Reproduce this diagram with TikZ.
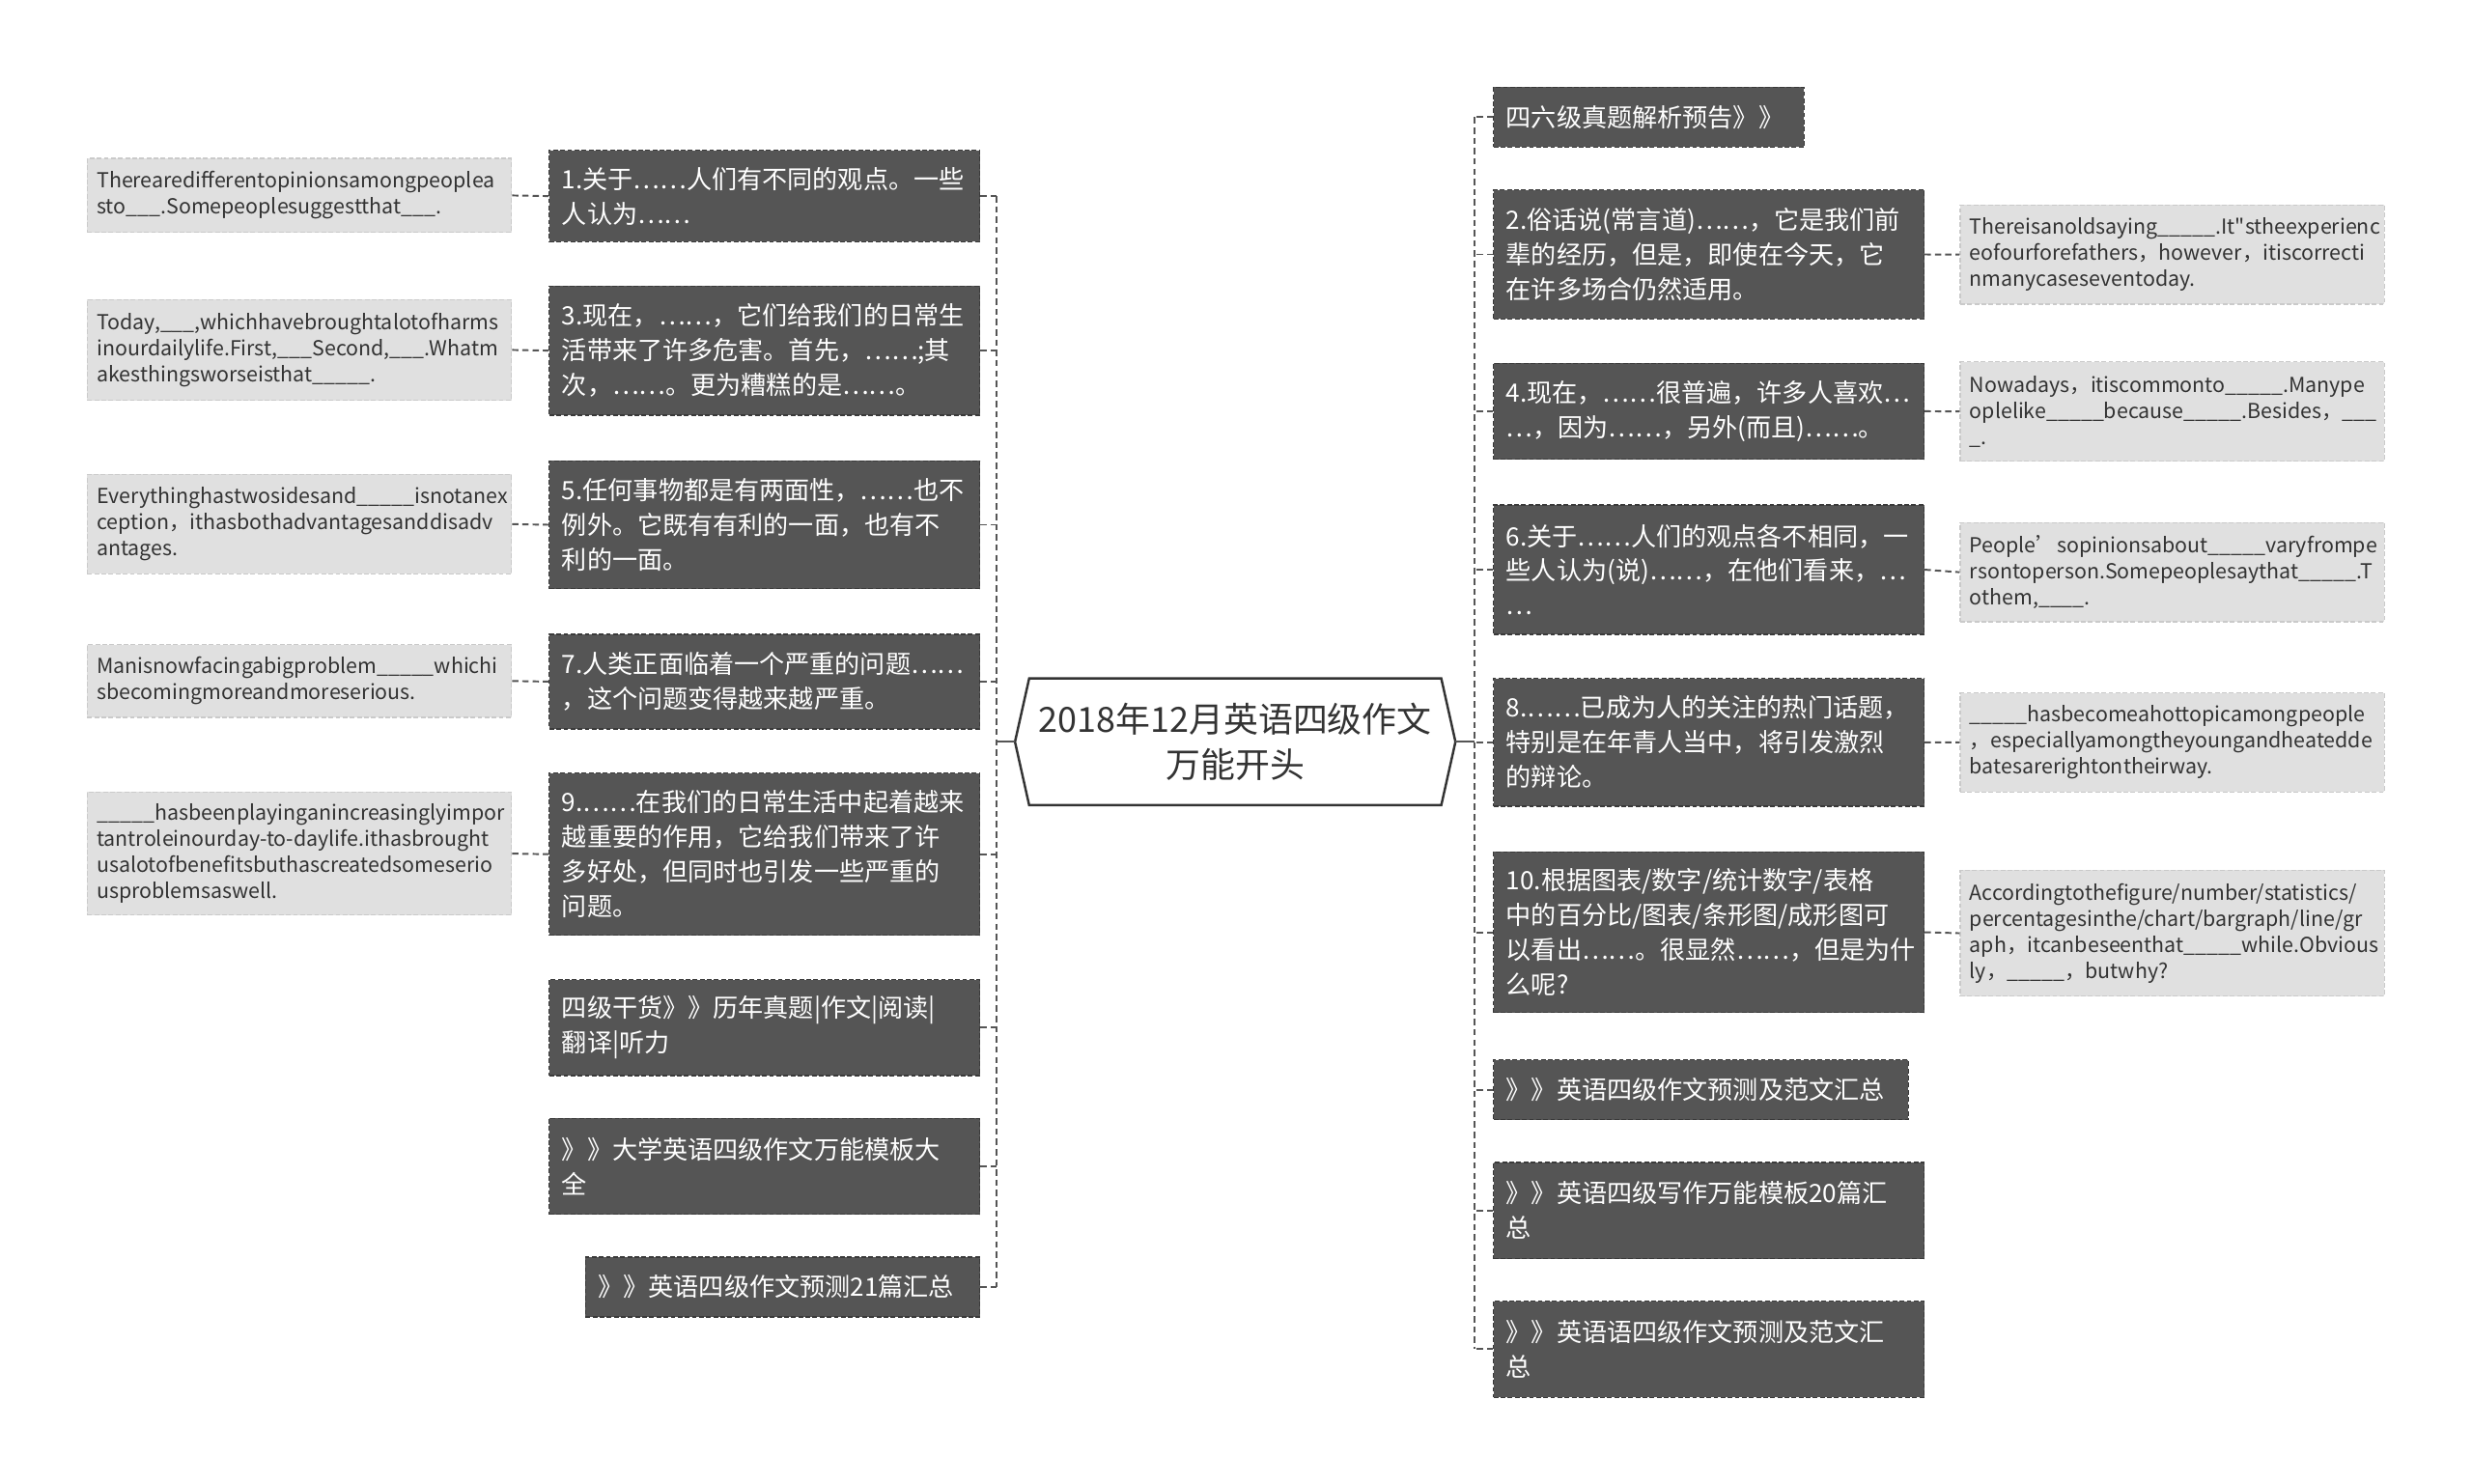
\documentclass[tikz,border=0pt]{standalone}
\usepackage{fontspec}
\setmainfont{Noto Sans CJK SC}
\setmonofont{Noto Sans CJK SC}
\hyphenpenalty=10000 \exhyphenpenalty=10000
\definecolor{dk}{HTML}{555555}
\definecolor{dkb}{HTML}{3A3A3A}
\definecolor{lt}{HTML}{E0E0E0}
\definecolor{ltb}{HTML}{CACACA}
\definecolor{ln}{HTML}{555555}
\definecolor{tx}{HTML}{333333}
\newcommand{\sq}{{\ttfamily"}}
\begin{document}
\begin{tikzpicture}[x=1pt,y=-1pt,
 darkbox/.style={fill=dk, draw=dkb, dash pattern=on 3pt off 1.5pt, line width=0.8pt, text=white,
   font=\fontsize{16}{22}\selectfont, align=left, inner xsep=8pt, inner ysep=0pt,
   anchor=north west, minimum width=273pt, text width=257pt},
 lightbox/.style={fill=lt, draw=ltb, dash pattern=on 3pt off 1.5pt, line width=0.8pt, text=tx,
   font=\fontsize{13.1}{16.5}\selectfont, align=left, inner xsep=6pt, inner ysep=0pt,
   anchor=west, minimum width=269pt, text width=257pt},
 link/.style={draw=ln, line width=1.2pt, dash pattern=on 4pt off 2.5pt},
 stem/.style={draw=ln, line width=1.4pt},
]
\useasboundingbox (0,0) rectangle (1568,941);

% central node
\node[minimum width=279pt, minimum height=80pt, inner sep=0pt] (c) at (783.5,470.6) {};
\draw[tx, line width=1.5pt, fill=white] (c.west) -- ([xshift=9pt]c.north west) -- ([xshift=-9pt]c.north east)
  -- (c.east) -- ([xshift=-9pt]c.south east) -- ([xshift=9pt]c.south west) -- cycle;
\node[text=tx, align=center, font=\fontsize{22}{29}\selectfont] at (c.center) {2018年12月英语四级作文\\万能开头};

% left dark boxes
\node[darkbox, minimum height=58pt] (b1) at (348,95) {1.关于……人们有不同的观点。一些\\人认为……};
\node[darkbox, minimum height=82pt] (b3) at (348,181) {3.现在，……，它们给我们的日常生\\活带来了许多危害。首先，……;其\\次，……。更为糟糕的是……。};
\node[darkbox, minimum height=81pt] (b5) at (348,292) {5.任何事物都是有两面性，……也不\\例外。它既有有利的一面，也有不\\利的一面。};
\node[darkbox, minimum height=60pt] (b7) at (348,402) {7.人类正面临着一个严重的问题……\\，这个问题变得越来越严重。};
\node[darkbox, minimum height=103pt] (b9) at (348,490) {9.……在我们的日常生活中起着越来\\越重要的作用，它给我们带来了许\\多好处，但同时也引发一些严重的\\问题。};
\node[darkbox, minimum height=61pt] (b11) at (348,621) {四级干货》》历年真题|作文|阅读|\\翻译|听力};
\node[darkbox, minimum height=61pt] (b12) at (348,709) {》》大学英语四级作文万能模板大\\全};
\node[darkbox, minimum height=38pt, minimum width=250pt, text width=234pt] (b13) at (371,797) {》》英语四级作文预测21篇汇总};

% left light boxes
\node[lightbox, minimum height=47pt] (l1) at (55,124) {Therearedifferentopinionsamongpeoplea\\sto\_\_\_.Somepeoplesuggestthat\_\_\_.};
\node[lightbox, minimum height=64pt] (l3) at (55,222) {Today,\_\_\_,whichhavebroughtalotofharms\\inourdailylife.First,\_\_\_Second,\_\_\_.Whatm\\akesthingsworseisthat\_\_\_\_\_.};
\node[lightbox, minimum height=63pt] (l5) at (55,332.5) {Everythinghastwosidesand\_\_\_\_\_isnotanex\\ception，ithasbothadvantagesanddisadv\\antages.};
\node[lightbox, minimum height=46pt] (l7) at (55,432) {Manisnowfacingabigproblem\_\_\_\_\_whichi\\sbecomingmoreandmoreserious.};
\node[lightbox, minimum height=78pt] (l9) at (55,541.5) {\_\_\_\_\_hasbeenplayinganincreasinglyimpor\\tantroleinourday-to-daylife.ithasbrought\\usalotofbenefitsbuthascreatedsomeserio\\usproblemsaswell.};

% right dark boxes
\node[darkbox, minimum height=38pt, minimum width=197pt, text width=181pt] (r0) at (947,55) {四六级真题解析预告》》};
\node[darkbox, minimum height=82pt] (r2) at (947,120) {2.俗话说(常言道)……，它是我们前\\辈的经历，但是，即使在今天，它\\在许多场合仍然适用。};
\node[darkbox, minimum height=61pt] (r4) at (947,230) {4.现在，……很普遍，许多人喜欢…\\…，因为……，另外(而且)……。};
\node[darkbox, minimum height=82pt] (r6) at (947,320) {6.关于……人们的观点各不相同，一\\些人认为(说)……，在他们看来，…\\…};
\node[darkbox, minimum height=81pt] (r8) at (947,430) {8.……已成为人的关注的热门话题，\\特别是在年青人当中，将引发激烈\\的辩论。};
\node[darkbox, minimum height=102pt] (r10) at (947,540) {10.根据图表/数字/统计数字/表格\\中的百分比/图表/条形图/成形图可\\以看出……。很显然……，但是为什\\么呢?};
\node[darkbox, minimum height=38pt, minimum width=263pt, text width=247pt] (r11) at (947,672) {》》英语四级作文预测及范文汇总};
\node[darkbox, minimum height=61pt] (r12) at (947,737) {》》英语四级写作万能模板20篇汇\\总};
\node[darkbox, minimum height=61pt] (r13) at (947,825) {》》英语语四级作文预测及范文汇\\总};

% right light boxes
\node[lightbox, minimum height=63pt] (rl2) at (1243,161.5) {Thereisanoldsaying\_\_\_\_\_.It\sq stheexperienc\\eofourforefathers，however，itiscorrecti\\nmanycaseseventoday.};
\node[lightbox, minimum height=63pt] (rl4) at (1243,261) {Nowadays，itiscommonto\_\_\_\_\_.Manype\\oplelike\_\_\_\_\_because\_\_\_\_\_.Besides，\_\_\_\\\_.};
\node[lightbox, minimum height=63pt] (rl6) at (1243,363) {People’sopinionsabout\_\_\_\_\_varyfrompe\\rsontoperson.Somepeoplesaythat\_\_\_\_\_.T\\othem,\_\_\_\_.};
\node[lightbox, minimum height=63pt] (rl8) at (1243,471) {\_\_\_\_\_hasbecomeahottopicamongpeople\\，especiallyamongtheyoungandheatedde\\batesarerightontheirway.};
\node[lightbox, minimum height=80pt] (rl10) at (1243,592) {Accordingtothefigure/number/statistics/\\percentagesinthe/chart/bargraph/line/gr\\aph，itcanbeseenthat\_\_\_\_\_while.Obvious\\ly，\_\_\_\_\_，butwhy?};

% trunks
\coordinate (tl) at (632,470.6);
\coordinate (tr) at (935,470.6);
\draw[stem] (c.west) -- (tl);
\draw[stem] (c.east) -- (tr);
\draw[link] (b1.east -| tl) -- (b13.east -| tl);
\draw[link] (r0.west -| tr) -- (r13.west -| tr);
\foreach \n in {b1,b3,b5,b7,b9,b11,b12,b13}{\draw[link] (\n.east) -- (\n.east -| tl);}
\foreach \n in {r0,r2,r4,r6,r8,r10,r11,r12,r13}{\draw[link] (\n.west) -- (\n.west -| tr);}
\draw[link] (l1.east) -- (b1.west);
\draw[link] (l3.east) -- (b3.west);
\draw[link] (l5.east) -- (b5.west);
\draw[link] (l7.east) -- (b7.west);
\draw[link] (l9.east) -- (b9.west);
\draw[link] (r2.east) -- (rl2.west);
\draw[link] (r4.east) -- (rl4.west);
\draw[link] (r6.east) -- (rl6.west);
\draw[link] (r8.east) -- (rl8.west);
\draw[link] (r10.east) -- (rl10.west);
\end{tikzpicture}
\end{document}
